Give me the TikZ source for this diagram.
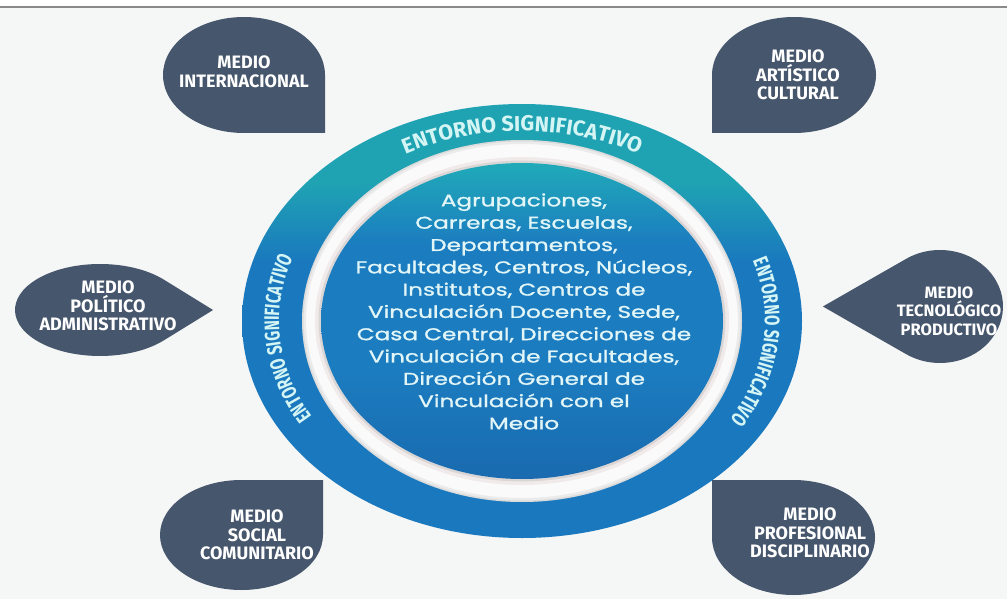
\documentclass[tikz,border=0pt]{standalone}
\usepackage{fontspec}
\usetikzlibrary{decorations.text}
\newfontfamily\bubblefont{Fira Sans}
\newfontfamily\ringwidefont[FakeStretch=1.0]{Fira Sans}
\newfontfamily\ringnarrowfont[FakeStretch=0.72]{Fira Sans}
\newfontfamily\centerfont[FakeStretch=1.36,FakeBold=1.2]{Poppins}
\definecolor{bubble}{HTML}{46566C}
\definecolor{ringteal}{HTML}{1FA3B3}
\definecolor{ringblue}{HTML}{1A79BE}
\definecolor{innerteal}{HTML}{20AAB9}
\definecolor{innerblue}{HTML}{1B7CBF}
\definecolor{innerdark}{HTML}{1A6AAF}
\definecolor{ringtext}{HTML}{D5F5F5}
\definecolor{centertext}{HTML}{E2F6F8}
\definecolor{bg}{HTML}{F5F6F6}
\definecolor{topline}{HTML}{8A8A8A}
\pgfdeclareverticalshading{ringshade}{100bp}{color(0bp)=(ringblue); color(25bp)=(ringblue); color(57bp)=(ringblue); color(66bp)=(ringteal); color(75bp)=(ringteal); color(100bp)=(ringteal)}
\pgfdeclareverticalshading{innershade}{100bp}{color(0bp)=(innerdark); color(25bp)=(innerdark); color(42bp)=(innerblue); color(62bp)=(innerblue); color(75bp)=(innerteal); color(100bp)=(innerteal)}
\tikzset{
  bubbletext/.style={text=white, font=\bubblefont\bfseries\fontsize{18}{18.5}\selectfont, align=center, inner sep=0pt},
  bubbletextsmall/.style={bubbletext, font=\bubblefont\bfseries\fontsize{16.5}{18.5}\selectfont},
  coretext/.style={text=centertext, font=\centerfont\fontsize{17}{22.3}\selectfont, align=center, inner sep=0pt},
  blob/.style={fill=bubble, draw=none}
}
\begin{document}
\begin{tikzpicture}[x=1pt,y=1pt]
\useasboundingbox (0,0) rectangle (1007,-599);
\fill[white] (0,0) rectangle (1007,-7);
\fill[bg] (0,-7) rectangle (1007,-599);
\draw[topline, line width=2.2pt] (0,-7) -- (1007,-7);

% corner bubbles
\begin{scope}[shift={(244,-75)}, xscale=81, yscale=58]
  \path[blob] (1,-1) -- (0,-1) arc[start angle=270,end angle=90,radius=1] arc[start angle=90,end angle=0,radius=1] -- cycle;
\end{scope}
\begin{scope}[shift={(794,-75)}, xscale=-82, yscale=58]
  \path[blob] (1,-1) -- (0,-1) arc[start angle=270,end angle=90,radius=1] arc[start angle=90,end angle=0,radius=1] -- cycle;
\end{scope}
\begin{scope}[shift={(241.5,-535)}, xscale=81.5, yscale=-55]
  \path[blob] (1,-1) -- (0,-1) arc[start angle=270,end angle=90,radius=1] arc[start angle=90,end angle=0,radius=1] -- cycle;
\end{scope}
\begin{scope}[shift={(793.5,-537.5)}, xscale=-81.5, yscale=-57.5]
  \path[blob] (1,-1) -- (0,-1) arc[start angle=270,end angle=90,radius=1] arc[start angle=90,end angle=0,radius=1] -- cycle;
\end{scope}
% side teardrops
\begin{scope}[shift={(100,-310)}, xscale=85, yscale=46]
  \path[blob] (1.33,0) -- (41.3:1) arc[start angle=41.3,end angle=318.7,radius=1] -- cycle;
\end{scope}
\begin{scope}[shift={(940,-306.5)}, xscale=-63, yscale=56.5]
  \path[blob] (1.86,0) -- (57.5:1) arc[start angle=57.5,end angle=302.5,radius=1] -- cycle;
\end{scope}

% central rings
\shade[shading=ringshade] (522,-321) ellipse[x radius=280, y radius=217];
\fill[white!96!gray] (522,-321) ellipse[x radius=220, y radius=181];
\begin{scope}
  \clip (522,-321) ellipse[x radius=220, y radius=181];
  \draw[gray, line width=8pt, opacity=0.12] (522,-321) ellipse[x radius=220, y radius=181];
  \draw[gray, line width=3pt, opacity=0.15] (522,-321) ellipse[x radius=220, y radius=181];
\end{scope}
\draw[gray!80!red, line width=12pt, opacity=0.10] (522,-321) ellipse[x radius=201, y radius=158];
\draw[gray, line width=5pt, opacity=0.18] (522,-321) ellipse[x radius=201, y radius=158];
\shade[shading=innershade] (522,-321) ellipse[x radius=201, y radius=158];

% ring texts
\path[decorate, decoration={text along path, text color=ringtext, text align=center,
  text={|\ringwidefont\bfseries\fontsize{21.5}{21.5}\selectfont|ENTORNO SIGNIFICATIVO}}]
  (522,-321) ++(130:243 and 190) arc[start angle=130, end angle=50, x radius=243, y radius=190];
\path[decorate, decoration={text along path, text color=ringtext, text align=center,
  text={|\ringnarrowfont\bfseries\fontsize{21}{21}\selectfont|ENTORNO SIGNIFICATIVO}}]
  (522,-321) ++(225:243 and 190) arc[start angle=225, end angle=145, x radius=243, y radius=190];
\path[decorate, decoration={text along path, text color=ringtext, text align=center,
  text={|\ringnarrowfont\bfseries\fontsize{21}{21}\selectfont|ENTORNO SIGNIFICATIVO}}]
  (522,-321) ++(34:243 and 190) arc[start angle=34, end angle=-46, x radius=243, y radius=190];

% central text
\node[coretext] (core) at (524,-311.5) {Agrupaciones,\\Carreras, Escuelas,\\Departamentos,\\Facultades, Centros, Núcleos,\\Institutos, Centros de\\Vinculación Docente, Sede,\\Casa Central, Direcciones de\\Vinculación de Facultades,\\Dirección General de\\Vinculación con el\\Medio};

% bubble texts
\node[bubbletext] (intl) at (244,-72) {MEDIO\\INTERNACIONAL};
\node[bubbletext] (arte) at (798,-75) {MEDIO\\ARTÍSTICO\\CULTURAL};
\node[bubbletext] (poli) at (108,-306) {MEDIO\\POLÍTICO\\ADMINISTRATIVO};
\node[bubbletextsmall] (tecn) at (949,-311) {MEDIO\\TECNOLÓGICO\\PRODUCTIVO};
\node[bubbletext] (soci) at (257,-535) {MEDIO\\SOCIAL\\COMUNITARIO};
\node[bubbletext] (prof) at (810,-533) {MEDIO\\PROFESIONAL\\DISCIPLINARIO};
\end{tikzpicture}
\end{document}
